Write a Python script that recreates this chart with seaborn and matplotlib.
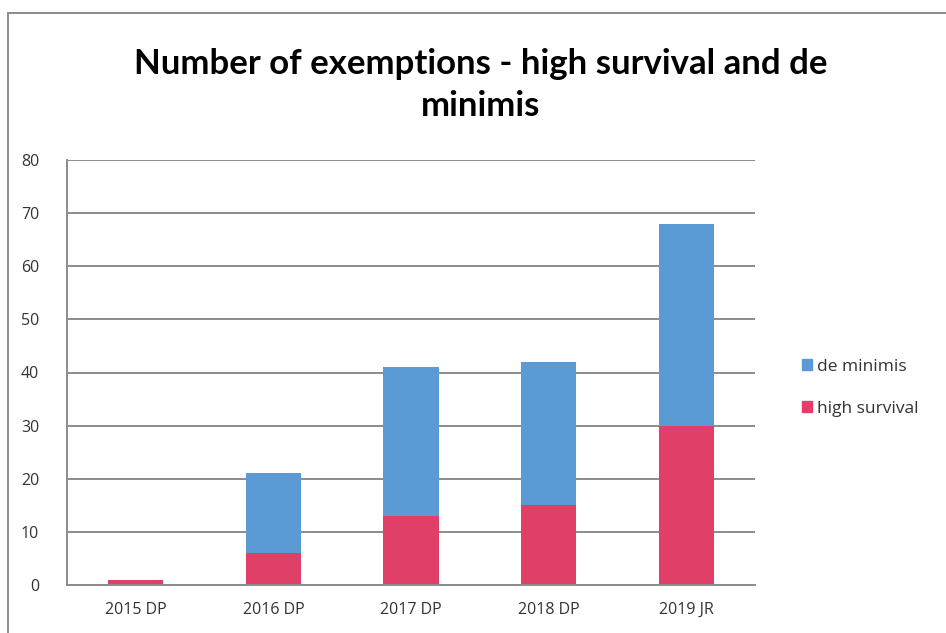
import matplotlib
matplotlib.use("Agg")
import matplotlib.pyplot as plt
import seaborn as sns
import pandas as pd
from matplotlib.patches import Rectangle, Patch

# data
years = ["2015 DP", "2016 DP", "2017 DP", "2018 DP", "2019 JR"]
high_survival = [1, 6, 13, 15, 30]
de_minimis = [0, 15, 28, 27, 38]

blue = "#5B9BD5"
red = "#E04068"
grid_col = "#8c8c8c"

sns.set_style("white")
plt.rcParams["font.family"] = ["Open Sans", "DejaVu Sans"]

df = pd.DataFrame({"year": years, "high": high_survival, "demin": de_minimis})
df["total"] = df["high"] + df["demin"]

fig = plt.figure(figsize=(9.46, 6.33), dpi=100)
ax = fig.add_axes([67 / 946, 1 - 585 / 633, (755 - 67) / 946, (585 - 160) / 633])

# stacked: draw totals in blue, then high survival on top in red
sns.barplot(data=df, x="year", y="total", color=blue, width=0.4, saturation=1,
            linewidth=0, ax=ax)
sns.barplot(data=df, x="year", y="high", color=red, width=0.4, saturation=1,
            linewidth=0, ax=ax)

ax.set_ylim(0, 80)
ax.set_xlim(-0.5, 4.5)
ax.set_yticks(range(0, 81, 10))
ax.yaxis.grid(True, color=grid_col, linewidth=1.4)
ax.set_axisbelow(True)
ax.set_xlabel("")
ax.set_ylabel("")

for s in ["top", "right"]:
    ax.spines[s].set_visible(False)
for s in ["left", "bottom"]:
    ax.spines[s].set_color(grid_col)
    ax.spines[s].set_linewidth(1.4)

ax.tick_params(axis="y", length=7, width=1.4, color=grid_col, labelsize=11.5,
               labelcolor="#333333", pad=13)
ax.tick_params(axis="x", which="major", length=0, labelsize=11.5, labelcolor="#333333", pad=12)
ax.set_xticks([i - 0.5 for i in range(6)], minor=True)
ax.tick_params(axis="x", which="minor", length=5, width=1.4, color=grid_col)

fig.text(0.508, 1 - 85 / 633, "Number of exemptions - high survival and de\nminimis",
         ha="center", va="center", fontsize=25, fontweight="bold",
         family=["Lato", "DejaVu Sans"], linespacing=1.4, color="black")

handles = [Patch(color=blue, label="de minimis"), Patch(color=red, label="high survival")]
fig.legend(handles=handles, loc="center left", bbox_to_anchor=(786 / 946, 1 - 388 / 633),
           frameon=False, fontsize=12.5, handlelength=0.6, handleheight=0.6,
           handletextpad=0.3, labelspacing=1.5, labelcolor="#333333")

# outer chart frame
fig.patches.append(Rectangle((8 / 946, -0.05), 1.1, 1 - 13 / 633 + 0.05, transform=fig.transFigure,
                             fill=False, edgecolor=grid_col, linewidth=1.4))

fig.savefig("out.png", dpi=100)
